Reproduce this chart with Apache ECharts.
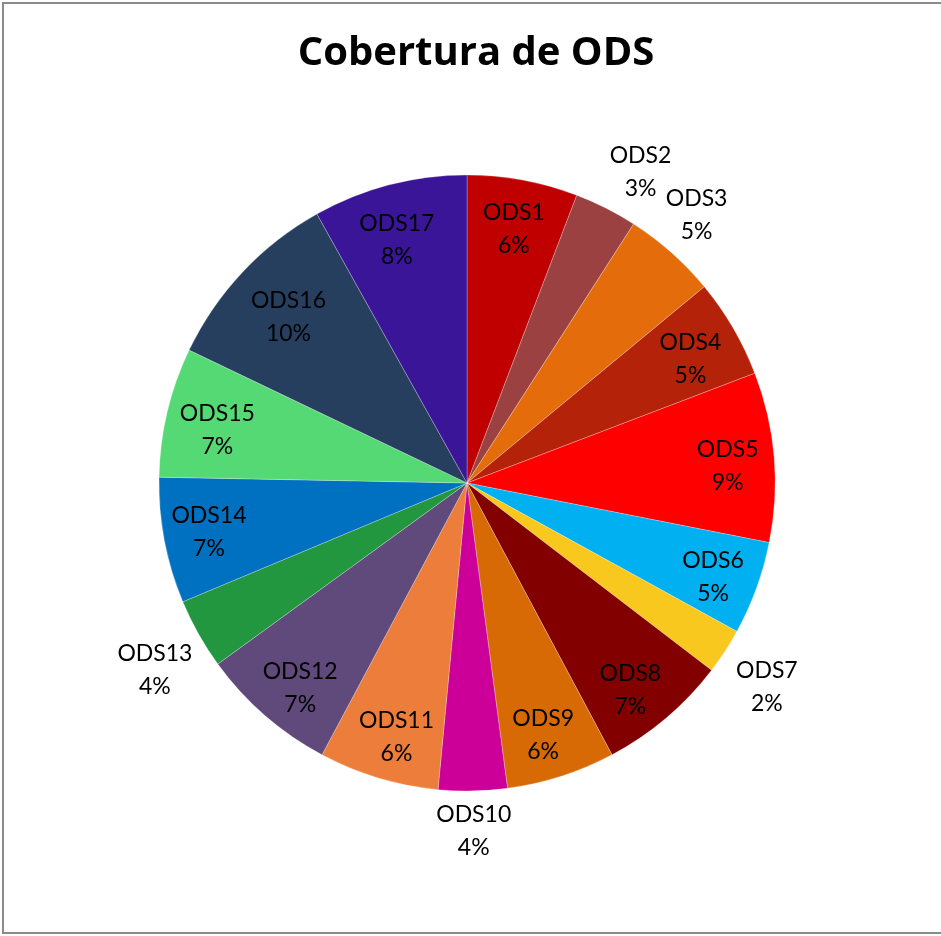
<!DOCTYPE html>
<html>
<head>
<meta charset="utf-8">
<script src="https://cdn.jsdelivr.net/npm/echarts@6/dist/echarts.min.js"></script>
<style>html,body{margin:0;padding:0;background:#fff}#c{width:941px;height:936px}</style>
</head>
<body>
<div id="c"></div>
<script>
var categories = ['ODS1','ODS2','ODS3','ODS4','ODS5','ODS6','ODS7','ODS8','ODS9','ODS10','ODS11','ODS12','ODS13','ODS14','ODS15','ODS16','ODS17'];
var values = [5.8, 3.3, 4.9, 5.2, 8.9, 4.9, 2.4, 6.8, 5.7, 3.6, 6.3, 7.2, 3.7, 6.6, 6.8, 9.8, 8.1];
var colors = ['#C00000','#9C4141','#E46C0A','#B5220A','#FF0000','#00B0F0','#F8C81E','#820000','#D86A06','#CC0099','#ED7D3A','#604A7B','#239640','#0070C0','#55D975','#263F5F','#3A1598'];
var outsideLabels = ['ODS2','ODS3','ODS7','ODS10','ODS13'];

// label placement nudges (style only)
var labelNudge = {
  ODS1:[0,0], ODS2:[12,9], ODS3:[-8,0], ODS4:[0,6], ODS5:[3,5], ODS6:[3,6], ODS7:[0,8],
  ODS8:[-4,10], ODS9:[-3,6], ODS10:[0,-10], ODS11:[4,6], ODS12:[3,10], ODS13:[0,12],
  ODS14:[-4,1], ODS15:[2,7], ODS16:[10,11], ODS17:[-5,7]
};

var total = values.reduce(function(a,b){return a+b;},0);
var FONT = 'Lato';
var cx = 467, cy = 483, R = 308;

function fmt(p){ return p.name + '\n' + Math.round(p.value/total*100) + '%'; }

var mainData = categories.map(function(c,i){ return {name:c, value:values[i], itemStyle:{color:colors[i]}}; });
var innerData = categories.map(function(c,i){
  return {name:c, value:values[i], label:{show: outsideLabels.indexOf(c) < 0, offset: labelNudge[c]}};
});
var outerData = categories.map(function(c,i){
  return {name:c, value:values[i], label:{show: outsideLabels.indexOf(c) >= 0, offset: labelNudge[c]}};
});
var labelStyle = {position:'inside', formatter:fmt, color:'#000', fontFamily:FONT, fontSize:23, lineHeight:33, align:'center'};

var chart = echarts.init(document.getElementById('c'), null, {renderer:'canvas'});
chart.setOption({
  backgroundColor:'#fff',
  animation:false,
  title:{text:'Cobertura de ODS', left:471, top:29, textAlign:'center',
    textStyle:{fontFamily:'Open Sans', fontWeight:'bold', fontSize:40, color:'#000'}},
  graphic:[{type:'rect', shape:{x:3, y:3, width:950, height:930}, style:{fill:'none', stroke:'#8a8a8a', lineWidth:2}, silent:true}],
  series:[
    {type:'pie', center:[cx,cy], radius:[0,R], startAngle:90, clockwise:true, data:mainData,
     label:{show:false}, labelLine:{show:false}, silent:true,
     itemStyle:{borderColor:'rgba(255,255,255,0.5)', borderWidth:0.5}},
    {type:'pie', center:[cx,cy], radius:[R*0.66,R], startAngle:90, clockwise:true, data:innerData,
     itemStyle:{color:'rgba(0,0,0,0)'}, label:labelStyle, labelLine:{show:false}, silent:true,
     avoidLabelOverlap:false, labelLayout:{hideOverlap:false}},
    {type:'pie', center:[cx,cy], radius:[R+20,R+74], startAngle:90, clockwise:true, data:outerData,
     itemStyle:{color:'rgba(0,0,0,0)'}, label:labelStyle, labelLine:{show:false}, silent:true,
     avoidLabelOverlap:false, labelLayout:{hideOverlap:false}}
  ]
});
</script>
</body>
</html>
